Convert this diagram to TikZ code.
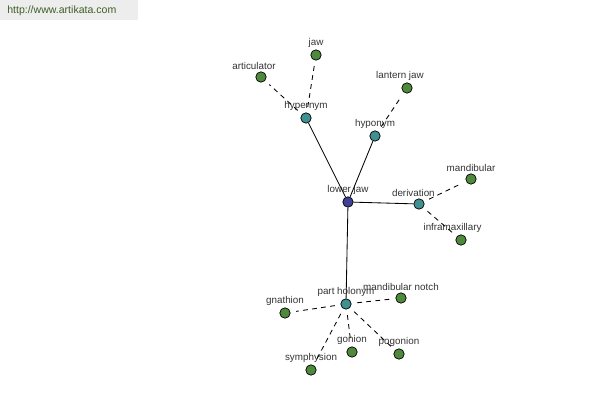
\documentclass[tikz,border=0pt]{standalone}
\usepackage{fontspec}
\setmainfont{Liberation Sans}
\begin{document}
\begin{tikzpicture}[x=0.025cm, y=-0.025cm,
    dot/.style={circle, draw=black, line width=0.5pt, minimum size=0.26cm, inner sep=0pt},
    leaf/.style={dot, fill=leafgreen},
    hub/.style={dot, fill=hubteal},
    root/.style={dot, fill=rootblue},
    lbl/.style={font=\fontsize{7}{8}\selectfont, text=black!80, inner sep=1pt},
    link/.style={line width=0.6pt},
    weak/.style={line width=0.6pt, dash pattern=on 3.5pt off 3pt, shorten <=4pt, shorten >=4pt}]
    \definecolor{leafgreen}{HTML}{4F8A3C}
    \definecolor{hubteal}{HTML}{3F9090}
    \definecolor{rootblue}{HTML}{404094}
    \definecolor{sitegreen}{HTML}{3F5F25}
    \useasboundingbox (0,0) rectangle (600,400);
    % Watermark
    \fill[black!7] (0,0) rectangle (138,20);
    \node[anchor=west, font=\fontsize{7.5}{8}\selectfont, text=sitegreen, inner sep=0pt] (site) at (7,11) {http://www.artikata.com};

    % Nodes
    \node[root, label={[lbl]above:lower jaw}] (lowerjaw) at (348,202) {};
    \node[hub, label={[lbl]above:hypernym}] (hypernym) at (306,118) {};
    \node[hub, label={[lbl]above:hyponym}] (hyponym) at (375,136) {};
    \node[hub, label={[lbl, xshift=-4pt]above:derivation}] (derivation) at (419,204) {};
    \node[hub, label={[lbl]above:part holonym}] (partholonym) at (346,304) {};
    \node[leaf, label={[lbl]above:jaw}] (jaw) at (316,55) {};
    \node[leaf, label={[lbl, xshift=-5pt]above:articulator}] (articulator) at (261,77) {};
    \node[leaf, label={[lbl, xshift=-5pt]above:lantern jaw}] (lanternjaw) at (407,88) {};
    \node[leaf, label={[lbl]above:mandibular}] (mandibular) at (471,179) {};
    \node[leaf, label={[lbl, xshift=-6pt]above:inframaxillary}] (inframaxillary) at (461,240) {};
    \node[leaf, label={[lbl]above:mandibular notch}] (mandnotch) at (401,298) {};
    \node[leaf, label={[lbl]above:gnathion}] (gnathion) at (285,313) {};
    \node[leaf, label={[lbl]above:symphysion}] (symphysion) at (311,370) {};
    \node[leaf, label={[lbl]above:gonion}] (gonion) at (352,352) {};
    \node[leaf, label={[lbl]above:pogonion}] (pogonion) at (399,354) {};

    % Edges
    \draw[link] (lowerjaw) -- (hypernym);
    \draw[link] (lowerjaw) -- (hyponym);
    \draw[link] (lowerjaw) -- (derivation);
    \draw[link] (lowerjaw) -- (partholonym);
    \draw[weak] (hypernym) -- (jaw);
    \draw[weak] (hypernym) -- (articulator);
    \draw[weak] (hyponym) -- (lanternjaw);
    \draw[weak] (derivation) -- (mandibular);
    \draw[weak] (derivation) -- (inframaxillary);
    \draw[weak] (partholonym) -- (mandnotch);
    \draw[weak] (partholonym) -- (gnathion);
    \draw[weak] (partholonym) -- (symphysion);
    \draw[weak] (partholonym) -- (gonion);
    \draw[weak] (partholonym) -- (pogonion);
\end{tikzpicture}
\end{document}
